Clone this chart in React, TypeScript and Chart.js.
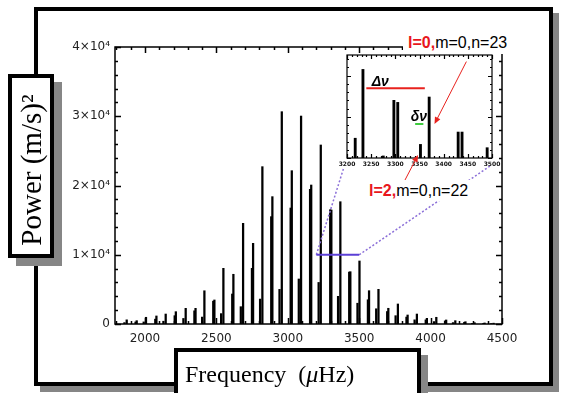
import React, { useEffect, useRef } from "react";
import { Chart, registerables } from "chart.js";

Chart.register(...registerables);

// ---------------- main spectrum (frequency in µHz, power in (m/s)^2) ----------------
const l0Freq = [1872, 2007, 2145, 2285, 2416, 2549, 2687, 2822, 2958, 3093, 3231, 3368, 3502, 3635, 3771, 3904, 4040, 4173, 4308, 4441];
const l0Power = [600, 970, 1440, 2260, 4800, 8040, 14540, 22720, 30660, 30030, 25850, 17660, 9100, 5010, 2890, 1440, 970, 480, 190, 120];

const l2Freq = [1856, 1991, 2129, 2269, 2400, 2533, 2671, 2806, 2942, 3077, 3216, 3352, 3488, 3619, 3755, 3888, 4024, 4157, 4292, 4425];
const l2Power = [200, 300, 400, 800, 1000, 1500, 2500, 3600, 5000, 6500, 6000, 4000, 3000, 2200, 1200, 600, 350, 200, 100, 60];

const l1aFreq = [1934, 2072, 2208, 2346, 2478, 2611, 2749, 2884, 3020, 3156, 3297, 3430, 3561, 3696, 3831, 3966, 4101, 4236, 4370];
const l1aPower = [300, 700, 1200, 1900, 3300, 4330, 8040, 15500, 16750, 19450, 16500, 7500, 3500, 1800, 1000, 600, 450, 250, 100];

const l1bFreq = [1942, 2080, 2216, 2354, 2486, 2619, 2757, 2892, 3028, 3164, 3305, 3438, 3569, 3704, 3839, 3974, 4109, 4244, 4378];
const l1bPower = [480, 1160, 1780, 2260, 3470, 7180, 11650, 18390, 22140, 20070, 16460, 7550, 4810, 2270, 1300, 820, 580, 330, 150];

const xRange = [1790, 4500];
const yRange = [0, 40000];
const xTicks = [2000, 2500, 3000, 3500, 4000, 4500];
const yTicks = [0, 10000, 20000, 30000, 40000];
const yTickLabels = ["0", "1×10⁴", "2×10⁴", "3×10⁴", "4×10⁴"];

// ---------------- inset (zoom on 3200–3500 µHz) ----------------
const insetFreq = [3217, 3233, 3275, 3297, 3305, 3352, 3370, 3430, 3438, 3490];
const insetPower = [4800, 21500, 500, 14000, 13500, 3300, 14800, 6300, 6300, 2500];
const insetRange = [3200, 3500];
const insetYRange = [0, 25000];
const insetTicks = [3200, 3250, 3300, 3350, 3400, 3450, 3500];

const zoomBand = [3200, 3500];
const zoomLevel = 10000;
const deltaNuSpan = [3240, 3361];
const deltaNuLevel = 16900;
const smallDeltaSpan = [3341, 3358];
const smallDeltaLevel = 8250;

const pts = (xs: number[], ys: number[]) => xs.map((x, i) => ({ x, y: ys[i] }));

function drawIdlFrame(chart: any, o: any) {
  const { ctx, chartArea } = chart;
  const { left, right, top, bottom } = chartArea;
  const xs = chart.scales.x;
  const ys = chart.scales.y;
  ctx.save();
  ctx.strokeStyle = "#000";
  ctx.lineWidth = o.lw;
  ctx.strokeRect(left, top, right - left, bottom - top);
  ctx.beginPath();
  const isMaj = (v: number, step: number) => Math.abs(v / step - Math.round(v / step)) < 1e-6;
  for (let v = Math.ceil(xs.min / o.xMinor) * o.xMinor; v <= xs.max + 1e-6; v += o.xMinor) {
    const p = Math.round(xs.getPixelForValue(v)) + 0.5;
    const L = isMaj(v, o.xMajor) ? o.maj : o.min;
    ctx.moveTo(p, bottom);
    ctx.lineTo(p, bottom - L);
    ctx.moveTo(p, top);
    ctx.lineTo(p, top + L);
  }
  for (let v = Math.ceil(ys.min / o.yMinor) * o.yMinor; v <= ys.max + 1e-6; v += o.yMinor) {
    const p = Math.round(ys.getPixelForValue(v)) + 0.5;
    const L = isMaj(v, o.yMajor) ? o.maj : o.min;
    ctx.moveTo(left, p);
    ctx.lineTo(left + L, p);
    ctx.moveTo(right, p);
    ctx.lineTo(right - L, p);
  }
  ctx.stroke();
  ctx.restore();
}

function arrow(ctx: any, x1: number, y1: number, x2: number, y2: number, color: string) {
  const a = Math.atan2(y2 - y1, x2 - x1);
  const hl = 7, hw = 3;
  ctx.save();
  ctx.strokeStyle = color;
  ctx.fillStyle = color;
  ctx.lineWidth = 1;
  ctx.beginPath();
  ctx.moveTo(x1, y1);
  ctx.lineTo(x2 - Math.cos(a) * hl * 0.8, y2 - Math.sin(a) * hl * 0.8);
  ctx.stroke();
  ctx.beginPath();
  ctx.moveTo(x2, y2);
  ctx.lineTo(x2 - Math.cos(a) * hl - Math.sin(a) * hw, y2 - Math.sin(a) * hl + Math.cos(a) * hw);
  ctx.lineTo(x2 - Math.cos(a) * hl + Math.sin(a) * hw, y2 - Math.sin(a) * hl - Math.cos(a) * hw);
  ctx.closePath();
  ctx.fill();
  ctx.restore();
}

// inset corner anchors (page pixels) for the dotted zoom lines
const INSET_LEFT = 300;
const INSET_TOP = 40;

export default function App() {
  const mainRef = useRef<HTMLCanvasElement>(null);
  const insetRef = useRef<HTMLCanvasElement>(null);

  useEffect(() => {
    const barDs = (xs: number[], ys: number[], t: number) => ({
      data: pts(xs, ys),
      backgroundColor: "#000",
      borderWidth: 0,
      barThickness: t,
      grouped: false,
    });

    const mainPlugin = {
      id: "mainDeco",
      afterDatasetsDraw(chart: any) {
        drawIdlFrame(chart, { lw: 1.5, xMajor: 500, xMinor: 100, yMajor: 10000, yMinor: 2000, maj: 6, min: 3 });
        const { ctx } = chart;
        const xs = chart.scales.x;
        const ys = chart.scales.y;
        const xa = xs.getPixelForValue(zoomBand[0]);
        const xb = xs.getPixelForValue(zoomBand[1]);
        const yl = ys.getPixelForValue(zoomLevel);
        ctx.save();
        ctx.strokeStyle = "#8b6fd8";
        ctx.lineWidth = 1.5;
        ctx.setLineDash([2, 2]);
        ctx.beginPath();
        ctx.moveTo(xa, yl);
        ctx.lineTo(INSET_LEFT + 44, INSET_TOP + 127);
        ctx.moveTo(xb, yl);
        ctx.lineTo(INSET_LEFT + 190, INSET_TOP + 126);
        ctx.stroke();
        ctx.setLineDash([]);
        ctx.strokeStyle = "#5b3fd6";
        ctx.lineWidth = 2;
        ctx.beginPath();
        ctx.moveTo(xa, yl);
        ctx.lineTo(xb, yl);
        ctx.stroke();
        ctx.restore();
      },
    };

    const main = new Chart(mainRef.current as HTMLCanvasElement, {
      type: "bar",
      data: {
        datasets: [
          barDs(l2Freq, l2Power, 1.6),
          barDs(l1aFreq, l1aPower, 1.6),
          barDs(l1bFreq, l1bPower, 1.6),
          barDs(l0Freq, l0Power, 1.6),
        ],
      },
      options: {
        animation: false,
        responsive: false,
        maintainAspectRatio: false,
        layout: { padding: { left: 0, top: 47, right: 59, bottom: 0 } },
        plugins: { legend: { display: false }, tooltip: { enabled: false } },
        scales: {
          x: {
            type: "linear",
            min: xRange[0],
            max: xRange[1],
            offset: false,
            grid: { display: false, drawTicks: false },
            border: { display: false },
            afterBuildTicks: (s: any) => {
              s.ticks = xTicks.map((v) => ({ value: v }));
            },
            afterFit: (s: any) => {
              s.height = 69;
            },
            ticks: {
              autoSkip: false,
              maxRotation: 0,
              padding: 8,
              color: "#222",
              font: { family: "DejaVu Sans", size: 12 },
              callback: (v: any) => String(v),
            },
          },
          y: {
            type: "linear",
            min: yRange[0],
            max: yRange[1],
            grid: { display: false, drawTicks: false },
            border: { display: false },
            afterBuildTicks: (s: any) => {
              s.ticks = yTicks.map((v) => ({ value: v }));
            },
            afterFit: (s: any) => {
              s.width = 115;
            },
            ticks: {
              padding: 5,
              color: "#222",
              font: { family: "DejaVu Sans", size: 12 },
              callback: (v: any) => yTickLabels[yTicks.indexOf(Number(v))] ?? "",
            },
          },
        },
      },
      plugins: [mainPlugin],
    } as any);

    const insetPlugin = {
      id: "insetDeco",
      afterDatasetsDraw(chart: any) {
        drawIdlFrame(chart, { lw: 1.2, xMajor: 50, xMinor: 10, yMajor: 10000, yMinor: 2000, maj: 4, min: 2 });
        const { ctx } = chart;
        const xs = chart.scales.x;
        const ys = chart.scales.y;
        ctx.save();
        // Δν
        const dy = ys.getPixelForValue(deltaNuLevel);
        ctx.strokeStyle = "#e8221e";
        ctx.lineWidth = 2;
        ctx.beginPath();
        ctx.moveTo(xs.getPixelForValue(deltaNuSpan[0]), dy);
        ctx.lineTo(xs.getPixelForValue(deltaNuSpan[1]), dy);
        ctx.stroke();
        ctx.fillStyle = "#000";
        ctx.font = "italic bold 14px 'Liberation Sans'";
        ctx.textBaseline = "alphabetic";
        ctx.fillText("Δν", xs.getPixelForValue(3251), dy - 2);
        // δν
        const sy = ys.getPixelForValue(smallDeltaLevel);
        ctx.strokeStyle = "#3fcc3f";
        ctx.beginPath();
        ctx.moveTo(xs.getPixelForValue(smallDeltaSpan[0]), sy);
        ctx.lineTo(xs.getPixelForValue(smallDeltaSpan[1]), sy);
        ctx.stroke();
        ctx.fillText("δν", xs.getPixelForValue(3332), sy - 3);
        // arrows
        arrow(ctx, xs.getPixelForValue(3447), ys.getPixelForValue(23400), xs.getPixelForValue(3381), ys.getPixelForValue(8250), "#e8221e");
        arrow(ctx, xs.getPixelForValue(3320), ys.getPixelForValue(-5340), xs.getPixelForValue(3347), ys.getPixelForValue(730), "#e8221e");
        ctx.restore();
      },
    };

    const inset = new Chart(insetRef.current as HTMLCanvasElement, {
      type: "bar",
      data: { datasets: [barDs(insetFreq, insetPower, 2.2)] },
      options: {
        animation: false,
        responsive: false,
        maintainAspectRatio: false,
        layout: { padding: { left: 47, top: 15, right: 18, bottom: 0 } },
        plugins: { legend: { display: false }, tooltip: { enabled: false } },
        scales: {
          x: {
            type: "linear",
            min: insetRange[0],
            max: insetRange[1],
            offset: false,
            grid: { display: false, drawTicks: false },
            border: { display: false },
            afterBuildTicks: (s: any) => {
              s.ticks = insetTicks.map((v) => ({ value: v }));
            },
            afterFit: (s: any) => {
              s.height = 42;
            },
            ticks: {
              autoSkip: false,
              maxRotation: 0,
              padding: 3,
              color: "#111",
              font: { family: "DejaVu Sans", size: 6, weight: "bold" },
              callback: (v: any) => String(v),
            },
          },
          y: { type: "linear", display: false, min: insetYRange[0], max: insetYRange[1] },
        },
      },
      plugins: [insetPlugin],
    } as any);

    return () => {
      main.destroy();
      inset.destroy();
    };
  }, []);

  const box = (l: number, t: number, w: number, h: number, sx: number, sy: number): React.CSSProperties => ({
    position: "absolute",
    left: l,
    top: t,
    width: w,
    height: h,
    boxSizing: "border-box",
    border: "4px solid #000",
    background: "#fff",
    boxShadow: `${sx}px ${sy}px 0 #868686`,
  });

  const sans = "'Liberation Sans', Arial, sans-serif";
  const serif = "'Liberation Serif', 'Times New Roman', serif";

  return (
    <div style={{ position: "fixed", left: 0, top: 0, width: 561, height: 393, overflow: "hidden", background: "#fff" }}>
      <div style={box(34, 7, 519, 379, 6, 6)} />
      <canvas ref={mainRef} width={561} height={393} style={{ position: "absolute", left: 0, top: 0, width: 561, height: 393 }} />
      <canvas
        ref={insetRef}
        width={210}
        height={160}
        style={{ position: "absolute", left: INSET_LEFT, top: INSET_TOP, width: 210, height: 160 }}
      />
      {/* labels of the modes */}
      <div
        style={{
          position: "absolute",
          left: 403,
          top: 29,
          width: 114,
          height: 25,
          background: "#fff",
          boxSizing: "border-box",
          paddingLeft: 5,
          paddingTop: 5,
          fontFamily: sans,
          fontSize: 16,
          lineHeight: "17px",
          whiteSpace: "nowrap",
          color: "#000",
        }}
      >
        <b style={{ color: "#e8161c" }}>l=0,</b>m=0,n=23
      </div>
      <div
        style={{
          position: "absolute",
          left: 365,
          top: 180,
          width: 114,
          height: 21,
          background: "#fff",
          boxSizing: "border-box",
          paddingLeft: 4,
          paddingTop: 2,
          fontFamily: sans,
          fontSize: 16,
          lineHeight: "17px",
          whiteSpace: "nowrap",
          color: "#000",
        }}
      >
        <b style={{ color: "#e8161c" }}>l=2,</b>m=0,n=22
      </div>
      {/* axis title boxes */}
      <div style={box(8, 74, 46, 184, 8, 8)} />
      <div
        style={{
          position: "absolute",
          left: 31 - 100,
          top: 170 - 15,
          width: 200,
          height: 30,
          lineHeight: "30px",
          fontSize: 29,
          fontFamily: serif,
          textAlign: "center",
          whiteSpace: "nowrap",
          transform: "rotate(-90deg)",
          color: "#000",
        }}
      >
        Power (m/s)²
      </div>
      <div style={box(174, 348, 247, 60, 7, 7)} />
      <div
        style={{
          position: "absolute",
          left: 185,
          top: 362,
          lineHeight: "24px",
          fontSize: 24,
          fontFamily: serif,
          whiteSpace: "pre",
          color: "#000",
        }}
      >
        Frequency  (<span style={{ fontStyle: "italic" }}>μ</span>Hz)
      </div>
    </div>
  );
}
